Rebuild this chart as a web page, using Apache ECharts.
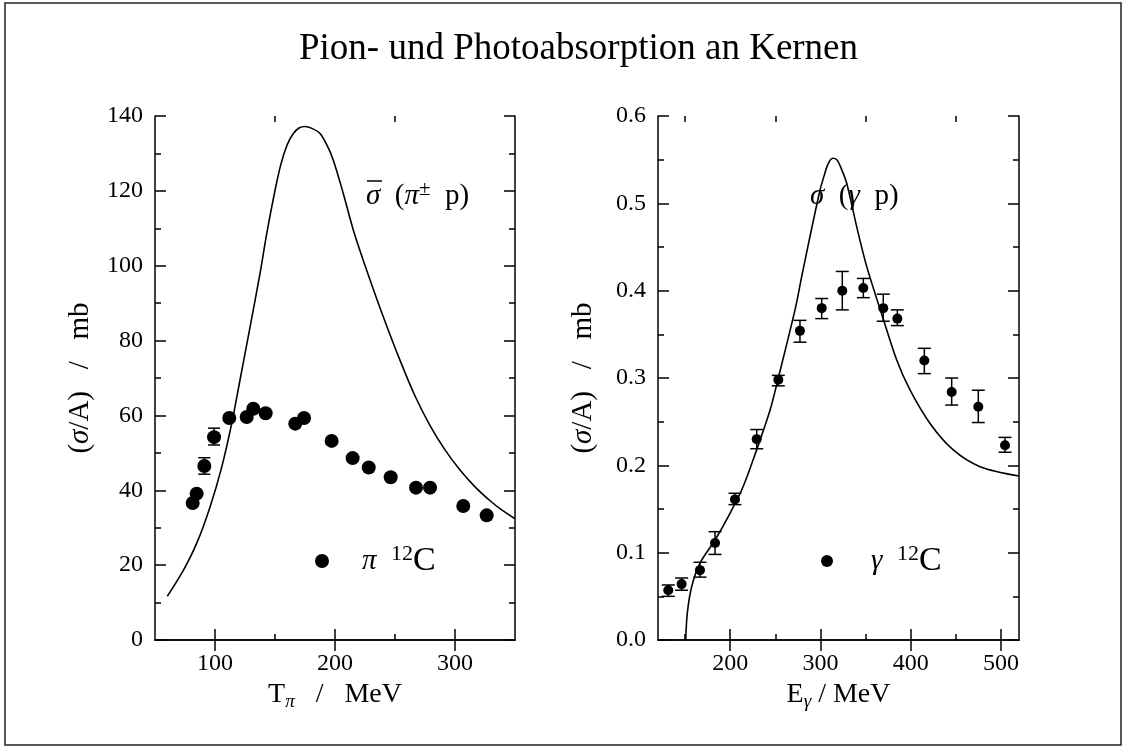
<!DOCTYPE html>
<html>
<head>
<meta charset="utf-8">
<script src="https://cdn.jsdelivr.net/npm/echarts@6/dist/echarts.min.js"></script>
<style>
html,body{margin:0;padding:0;background:#fff;}
#chart{width:1125px;height:748px;}
</style>
</head>
<body>
<div id="chart"></div>
<script>
// ---------- data ----------
// Left panel: pion absorption on 12C
const piCurveX = [60.3, 73.6, 84.7, 95.8, 105.6, 113.9, 120.8, 129.2, 137.5, 143.1, 150.0, 155.0, 160.0, 165.0, 170.0, 175.0, 180.8, 187.5, 193.3, 198.6, 206.9, 215.3, 226.4, 240.3, 254.2, 266.7, 279.2, 291.7, 304.2, 316.7, 329.2, 339.2, 350.0];
const piCurveY = [11.7, 18.6, 25.8, 35.5, 46.2, 57.8, 69.4, 83.6, 97.9, 108.6, 120.1, 127.2, 132.2, 135.2, 136.8, 137.2, 136.7, 135.3, 132.2, 128.2, 119.3, 109.5, 98.8, 86.3, 74.7, 65.2, 57.3, 50.8, 45.4, 40.9, 37.2, 34.7, 32.4];
const piDataX = [81.4, 84.7, 91.1, 99.2, 111.9, 126.4, 131.9, 142.2, 166.9, 174.2, 197.2, 214.7, 228.1, 246.4, 267.5, 279.2, 306.9, 326.4];
const piDataY = [36.6, 39.1, 46.5, 54.2, 59.3, 59.6, 61.8, 60.6, 57.8, 59.3, 53.2, 48.6, 46.1, 43.5, 40.7, 40.7, 35.8, 33.3];
const piErrLo = [null, null, 44.3, 52.1, null, null, null, null, null, null, null, null, null, null, null, null, null, null];
const piErrHi = [null, null, 48.7, 56.6, null, null, null, null, null, null, null, null, null, null, null, null, null, null];
const piXTicks = [100, 200, 300];
const piXMinor = [150, 250];

// Right panel: photoabsorption on 12C
const gCurveX = [150.7, 152.5, 157.3, 166.5, 183.2, 199.8, 214.5, 229.4, 244.1, 253.3, 271.8, 279.2, 288.4, 299.5, 303.9, 308.4, 313.6, 318.4, 322.8, 329.1, 340.2, 351.3, 369.6, 384.5, 399.2, 421.4, 447.2, 476.8, 520.0];
const gCurveY = [0.0, 0.031, 0.061, 0.088, 0.1145, 0.145, 0.176, 0.218, 0.263, 0.300, 0.378, 0.416, 0.462, 0.515, 0.531, 0.545, 0.5516, 0.5496, 0.5405, 0.523, 0.473, 0.4275, 0.3675, 0.3206, 0.2863, 0.248, 0.2176, 0.1985, 0.1878];
const gDataX = [131.4, 146.2, 166.5, 183.2, 205.3, 229.4, 253.3, 277.3, 301.4, 324.2, 347.5, 369.6, 385.2, 415.1, 445.4, 474.9, 504.5];
const gDataY = [0.057, 0.064, 0.080, 0.111, 0.161, 0.230, 0.298, 0.354, 0.380, 0.400, 0.403, 0.380, 0.368, 0.320, 0.284, 0.267, 0.223];
const gErrLo = [0.050, 0.057, 0.072, 0.098, 0.155, 0.219, 0.291, 0.341, 0.368, 0.378, 0.392, 0.365, 0.360, 0.305, 0.269, 0.249, 0.215];
const gErrHi = [0.063, 0.071, 0.089, 0.124, 0.168, 0.241, 0.303, 0.366, 0.391, 0.422, 0.414, 0.396, 0.378, 0.334, 0.300, 0.286, 0.232];
const gXTicks = [200, 300, 400, 500];
const gXMinor = [150, 250, 350, 450];

// ---------- helpers ----------
const SERIF = '"Liberation Serif","Times New Roman",serif';
const BLACK = '#000';
const zip = (a, b) => a.map((v, i) => [v, b[i]]);

function xAxes(grid, min, max, major, minor, nameRich) {
  const base = {
    type: 'value', gridIndex: grid, min: min, max: max,
    splitLine: {show: false}
  };
  return [
    Object.assign({}, base, {
      position: 'bottom',
      axisLine: {show: true, lineStyle: {color: BLACK, width: 1.5}},
      axisTick: {show: true, inside: true, length: 11, customValues: major, lineStyle: {color: BLACK, width: 1.5}},
      axisLabel: {show: true, customValues: major, color: BLACK, fontFamily: SERIF, fontSize: 24, margin: 12},
      name: nameRich.text, nameLocation: 'middle', nameGap: 38,
      nameTextStyle: {color: BLACK, fontFamily: SERIF, rich: nameRich.rich}
    }),
    Object.assign({}, base, {
      position: 'top',
      axisLine: {show: true, lineStyle: {color: BLACK, width: 1.5}},
      axisTick: {show: true, inside: true, length: 11, customValues: major, lineStyle: {color: BLACK, width: 1.5}},
      axisLabel: {show: false}
    }),
    Object.assign({}, base, {
      position: 'bottom',
      axisLine: {show: false},
      axisTick: {show: true, inside: true, length: 6, customValues: minor, lineStyle: {color: BLACK, width: 1.5}},
      axisLabel: {show: false}
    }),
    Object.assign({}, base, {
      position: 'top',
      axisLine: {show: false},
      axisTick: {show: true, inside: true, length: 6, customValues: minor, lineStyle: {color: BLACK, width: 1.5}},
      axisLabel: {show: false}
    })
  ];
}

function yAxes(grid, min, max, interval, fmt) {
  const base = {
    type: 'value', gridIndex: grid, min: min, max: max, interval: interval,
    splitLine: {show: false},
    axisLine: {show: true, lineStyle: {color: BLACK, width: 1.5}},
    axisTick: {show: true, inside: true, length: 11, lineStyle: {color: BLACK, width: 1.5}},
    minorTick: {show: true, splitNumber: 2, length: 6, lineStyle: {color: BLACK, width: 1.5}}
  };
  return [
    Object.assign({}, base, {
      position: 'left',
      axisLabel: {show: true, color: BLACK, fontFamily: SERIF, fontSize: 24, margin: 12, formatter: fmt},
      name: '{a|(}{s|σ}{a|/A)   /   mb}', nameLocation: 'middle', nameGap: 60, nameRotate: 90,
      nameTextStyle: {
        color: BLACK, fontFamily: SERIF, fontSize: 29,
        rich: {
          a: {fontSize: 29, fontFamily: SERIF, color: BLACK},
          s: {fontSize: 29, fontFamily: SERIF, fontStyle: 'italic', color: BLACK}
        }
      }
    }),
    Object.assign({}, base, {position: 'right', axisLabel: {show: false}})
  ];
}

function errRender(cap) {
  return function (params, api) {
    const x = api.value(0), lo = api.value(1), hi = api.value(2);
    const pLo = api.coord([x, lo]);
    const pHi = api.coord([x, hi]);
    const st = {stroke: BLACK, lineWidth: 1.5};
    return {
      type: 'group',
      children: [
        {type: 'line', shape: {x1: pLo[0], y1: pLo[1], x2: pHi[0], y2: pHi[1]}, style: st},
        {type: 'line', shape: {x1: pLo[0] - cap, y1: pLo[1], x2: pLo[0] + cap, y2: pLo[1]}, style: st},
        {type: 'line', shape: {x1: pHi[0] - cap, y1: pHi[1], x2: pHi[0] + cap, y2: pHi[1]}, style: st}
      ]
    };
  };
}

const piErrData = piDataX.map((x, i) => [x, piErrLo[i], piErrHi[i]]).filter(d => d[1] !== null);
const gErrData = gDataX.map((x, i) => [x, gErrLo[i], gErrHi[i]]);

const subRich = {
  a: {fontSize: 28, fontFamily: SERIF, color: BLACK},
  s: {fontSize: 19, fontFamily: SERIF, fontStyle: 'italic', color: BLACK, padding: [14, 0, 0, 0]}
};

const legendRich = {
  p: {fontSize: 29, fontStyle: 'italic', fontFamily: SERIF, color: BLACK},
  g: {fontSize: 29, fontFamily: SERIF},
  sup: {fontSize: 22, fontFamily: SERIF, color: BLACK, padding: [0, 0, 14, 0]},
  c: {fontSize: 34, fontFamily: SERIF, color: BLACK}
};

const chart = echarts.init(document.getElementById('chart'));
const option = {
  backgroundColor: '#fff',
  animation: false,
  title: {
    text: 'Pion- und Photoabsorption an Kernen',
    left: 294, top: 26,
    textStyle: {color: BLACK, fontFamily: SERIF, fontSize: 37, fontWeight: 'normal'}
  },
  grid: [
    {left: 155, top: 116, width: 360, height: 524},
    {left: 658, top: 116, width: 361, height: 524}
  ],
  xAxis: [].concat(
    xAxes(0, 50, 350, piXTicks, piXMinor, {text: '{a|T}{s|π}{a|   /   MeV}', rich: subRich}),
    xAxes(1, 120, 520, gXTicks, gXMinor, {text: '{a|E}{s|γ}{a| / MeV}', rich: subRich})
  ),
  yAxis: [].concat(
    yAxes(0, 0, 140, 20, v => String(v)),
    yAxes(1, 0, 0.6, 0.1, v => v.toFixed(1))
  ),
  legend: [
    {
      data: [{name: 'pi', icon: 'circle'}],
      left: 315, top: 543, padding: 0, itemWidth: 14, itemHeight: 14, itemGap: 0,
      formatter: () => '{p|π}{g|  }{sup|12}{c|C}',
      textStyle: {color: BLACK, fontFamily: SERIF, padding: [0, 0, 0, 28], rich: legendRich}
    },
    {
      data: [{name: 'gamma', icon: 'circle'}],
      left: 821, top: 543, padding: 0, itemWidth: 12, itemHeight: 12, itemGap: 0,
      formatter: () => '{p|γ}{g|  }{sup|12}{c|C}',
      textStyle: {color: BLACK, fontFamily: SERIF, padding: [0, 0, 0, 33], rich: legendRich}
    }
  ],
  graphic: [
    {type: 'rect', shape: {x: 5, y: 3, width: 1116, height: 742}, style: {fill: 'none', stroke: '#222', lineWidth: 1.5}, silent: true},
    {
      type: 'text', x: 366, y: 196,
      style: {
        text: '{s|σ}{a|  (}{s|π}{sup|±}{a|  p)}',
        verticalAlign: 'middle',
        rich: {
          a: {fontSize: 29, fontFamily: SERIF, fill: BLACK},
          s: {fontSize: 29, fontFamily: SERIF, fontStyle: 'italic', fill: BLACK},
          sup: {fontSize: 21, fontFamily: SERIF, fill: BLACK, padding: [0, 0, 14, 0]}
        }
      }
    },
    {type: 'line', shape: {x1: 367, y1: 181, x2: 382, y2: 181}, style: {stroke: BLACK, lineWidth: 1.5}},
    {
      type: 'text', x: 810, y: 196,
      style: {
        text: '{s|σ}{a|  (}{s|γ}{a|  p)}',
        verticalAlign: 'middle',
        rich: {
          a: {fontSize: 29, fontFamily: SERIF, fill: BLACK},
          s: {fontSize: 29, fontFamily: SERIF, fontStyle: 'italic', fill: BLACK}
        }
      }
    }
  ],
  series: [
    {
      name: 'curvePi', type: 'line', xAxisIndex: 0, yAxisIndex: 0,
      data: zip(piCurveX, piCurveY), smooth: 0.3, showSymbol: false,
      lineStyle: {color: BLACK, width: 1.6}, z: 2
    },
    {
      name: 'pi', type: 'scatter', xAxisIndex: 0, yAxisIndex: 0,
      data: zip(piDataX, piDataY), symbol: 'circle', symbolSize: 14,
      itemStyle: {color: BLACK, opacity: 1}, z: 4
    },
    {
      name: 'errPi', type: 'custom', xAxisIndex: 0, yAxisIndex: 0,
      data: piErrData, renderItem: errRender(6), z: 3
    },
    {
      name: 'curveG', type: 'line', xAxisIndex: 4, yAxisIndex: 2,
      data: zip(gCurveX, gCurveY), smooth: 0.3, showSymbol: false,
      lineStyle: {color: BLACK, width: 1.6}, z: 2
    },
    {
      name: 'gamma', type: 'scatter', xAxisIndex: 4, yAxisIndex: 2,
      data: zip(gDataX, gDataY), symbol: 'circle', symbolSize: 10,
      itemStyle: {color: BLACK, opacity: 1}, z: 4
    },
    {
      name: 'errG', type: 'custom', xAxisIndex: 4, yAxisIndex: 2,
      data: gErrData, renderItem: errRender(6.5), z: 3
    }
  ]
};
chart.setOption(option);
</script>
</body>
</html>
